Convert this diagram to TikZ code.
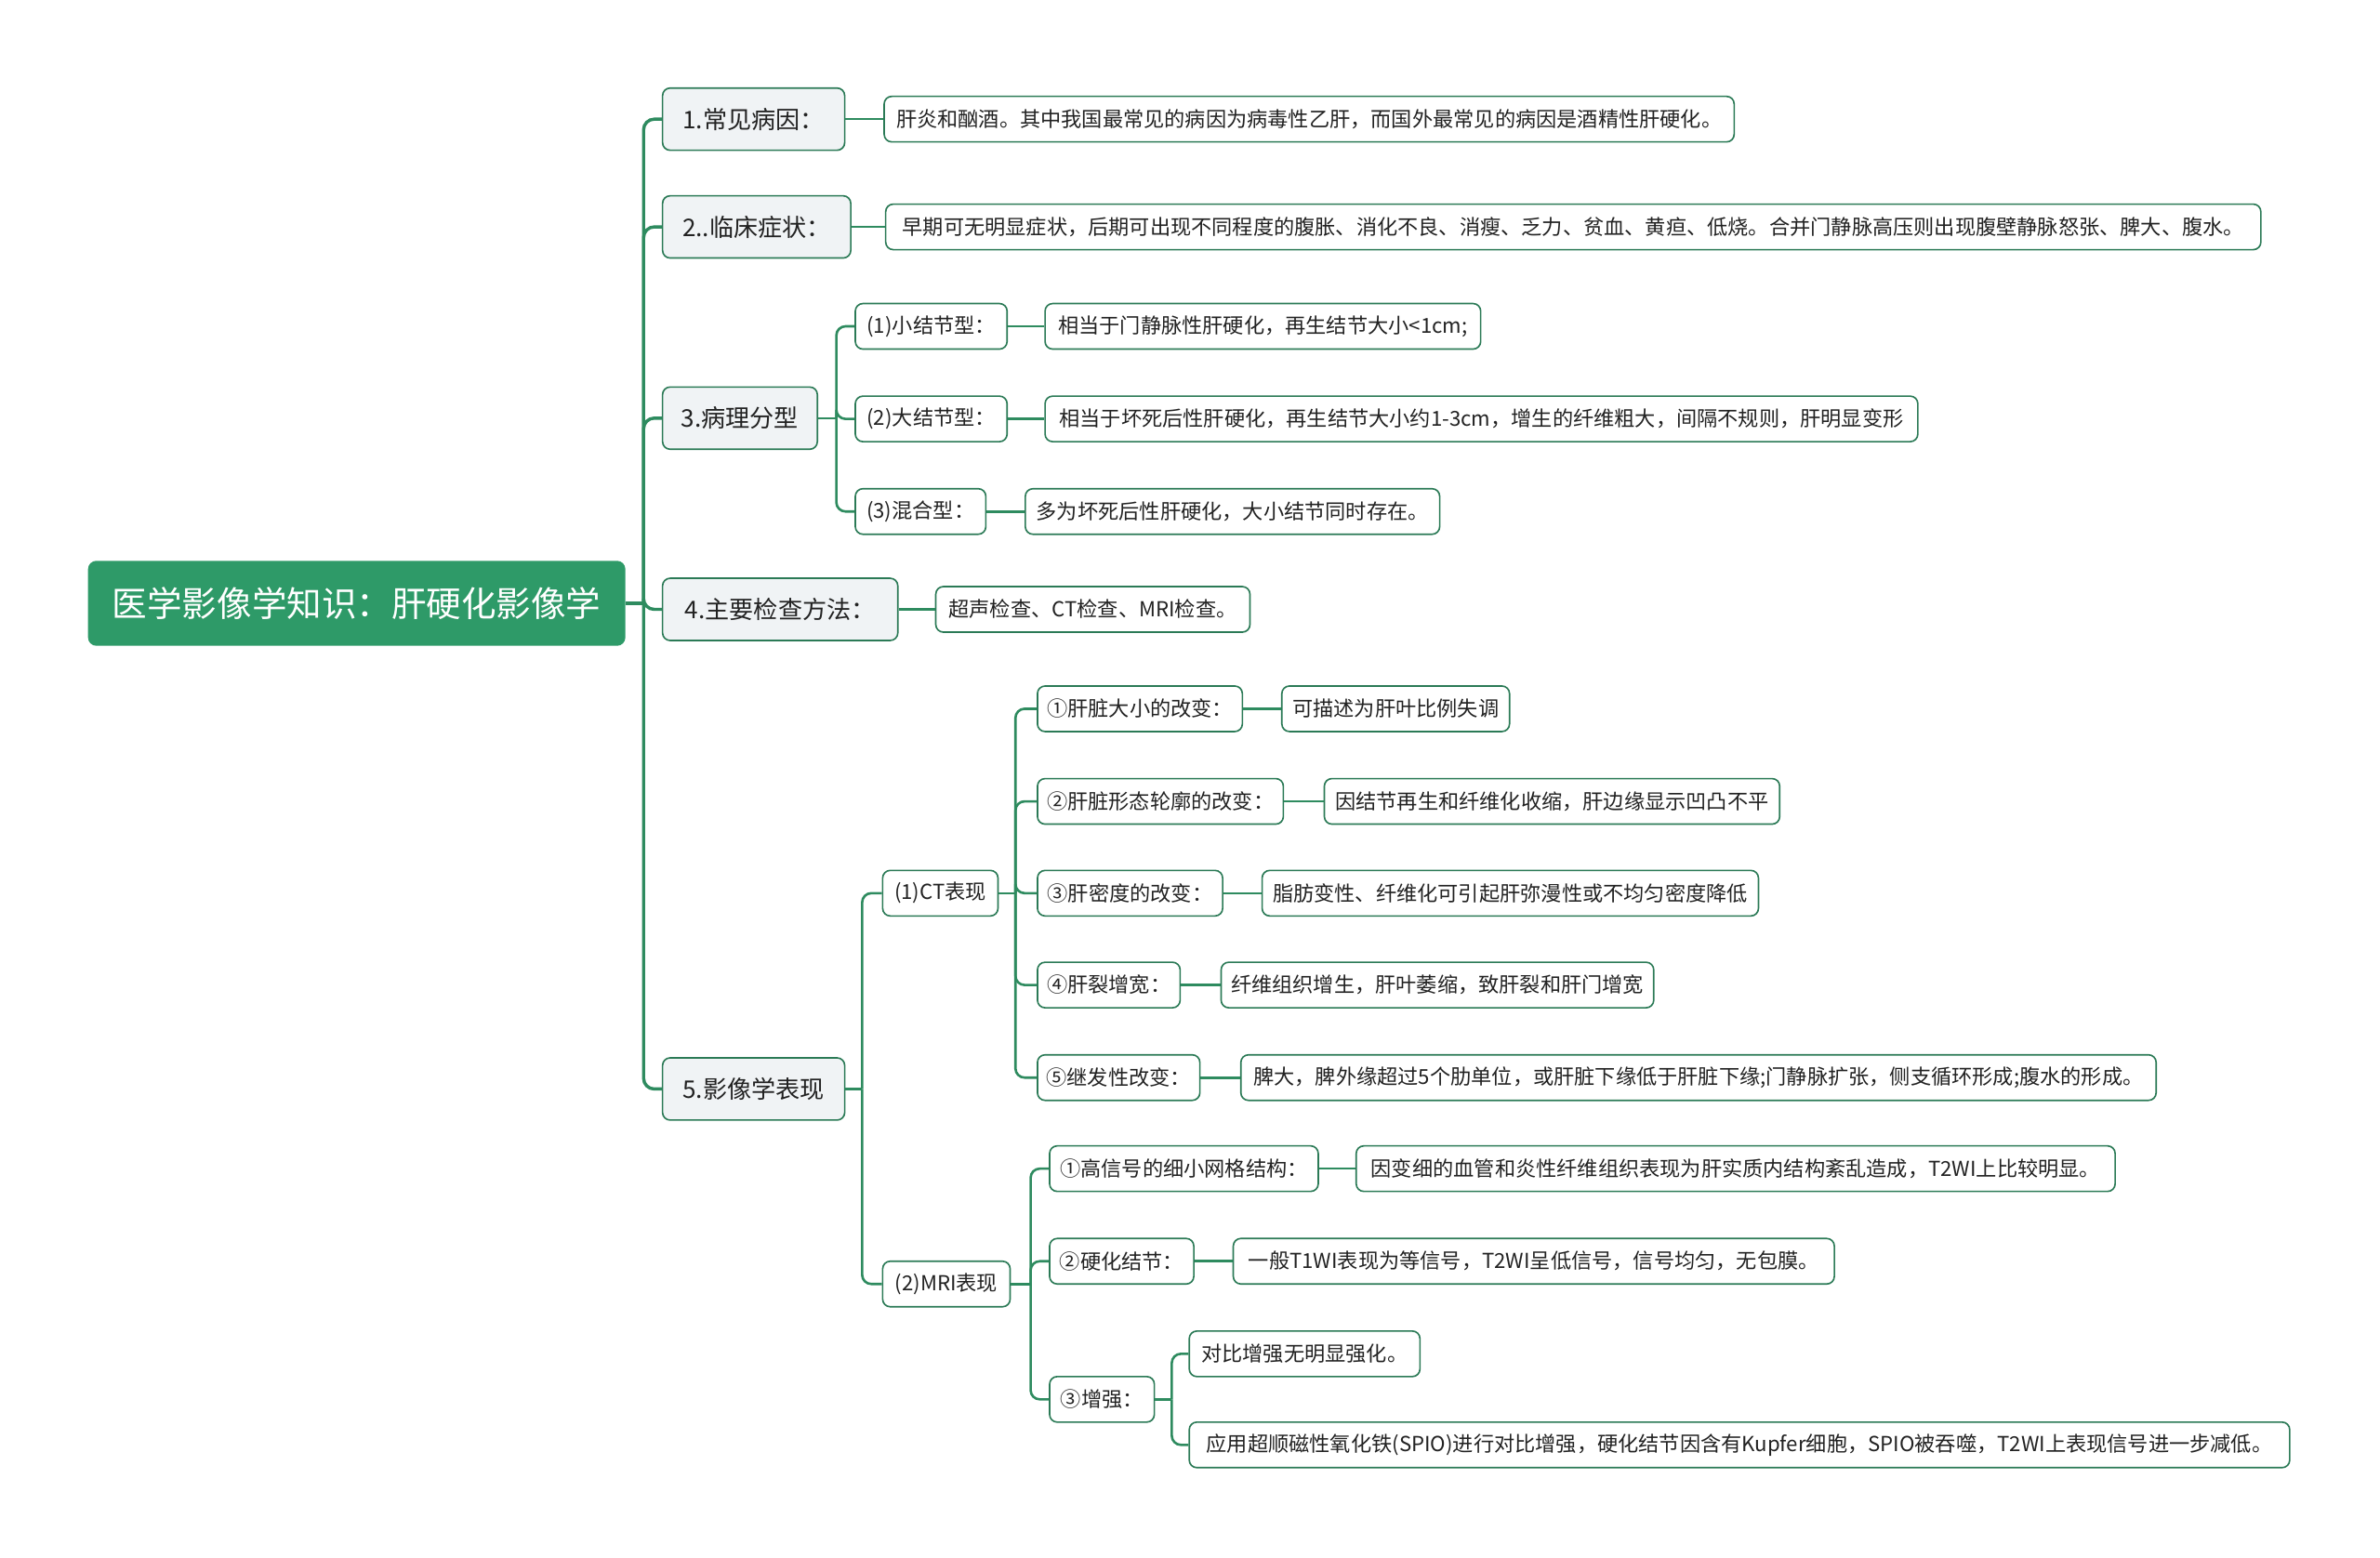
\documentclass[tikz,border=0pt]{standalone}
\usepackage{fontspec}
\setmainfont{Noto Sans CJK SC}
\usetikzlibrary{calc}
\definecolor{rootg}{HTML}{2E9A68}
\definecolor{lineg}{HTML}{2E8B5F}
\definecolor{boxg}{HTML}{2B7A56}
\definecolor{lfill}{HTML}{F0F3F5}
\definecolor{txt}{HTML}{222222}
\tikzset{
  base/.style={draw=boxg, line width=1pt, rounded corners=5pt, anchor=west, inner xsep=3pt, inner ysep=0pt, text=txt},
  rootbox/.style={base, fill=rootg, draw=rootg, text=white, font=\fontsize{23}{26}\selectfont, minimum height=55},
  lonebox/.style={base, fill=lfill, font=\fontsize{16}{19}\selectfont, minimum height=41},
  leaf/.style={base, fill=white, font=\fontsize{13.6}{16}\selectfont, minimum height=30},
  trunk/.style={draw=lineg, line width=2.1pt, rounded corners=7pt},
  conn/.style={draw=lineg, line width=1.6pt, rounded corners=6pt},
}
\begin{document}
\begin{tikzpicture}[x=1pt,y=-1pt]
\useasboundingbox (0,0) rectangle (1568,1026);
% root
\node[rootbox, minimum width=353] (root) at (58,397.5) {医学影像学知识：肝硬化影像学};
% level 1
\node[lonebox, minimum width=120] (n1) at (436,78.5) {1.常见病因：};
\node[lonebox, minimum width=124] (n2) at (436,149.5) {2..临床症状：};
\node[lonebox, minimum width=102] (n3) at (436,275.5) {3.病理分型};
\node[lonebox, minimum width=155] (n4) at (436,401.5) {4.主要检查方法：};
\node[lonebox, minimum width=120] (n5) at (436,717.5) {5.影像学表现};
% leaves of 1,2,4
\node[leaf, minimum width=560] (l1) at (582,78.5) {肝炎和酗酒。其中我国最常见的病因为病毒性乙肝，而国外最常见的病因是酒精性肝硬化。};
\node[leaf, minimum width=906] (l2) at (583,149.5) {早期可无明显症状，后期可出现不同程度的腹胀、消化不良、消瘦、乏力、贫血、黄疸、低烧。合并门静脉高压则出现腹壁静脉怒张、脾大、腹水。};
\node[leaf, minimum width=207] (l4) at (616,401.5) {超声检查、CT检查、MRI检查。};
% branch 3
\node[leaf, minimum width=100] (s31) at (563,215) {(1)小结节型：};
\node[leaf, minimum width=287] (t31) at (688,215) {相当于门静脉性肝硬化，再生结节大小<1cm;};
\node[leaf, minimum width=100] (s32) at (563,276) {(2)大结节型：};
\node[leaf, minimum width=575] (t32) at (688,276) {相当于坏死后性肝硬化，再生结节大小约1-3cm，增生的纤维粗大，间隔不规则，肝明显变形};
\node[leaf, minimum width=86] (s33) at (563,337) {(3)混合型：};
\node[leaf, minimum width=273] (t33) at (675,337) {多为坏死后性肝硬化，大小结节同时存在。};
% branch 5
\node[leaf, minimum width=76] (ct) at (581,588.5) {(1)CT表现};
\node[leaf, minimum width=135] (c1) at (683,467) {①肝脏大小的改变：};
\node[leaf, minimum width=150] (d1) at (844,467) {可描述为肝叶比例失调};
\node[leaf, minimum width=162] (c2) at (683,528) {②肝脏形态轮廓的改变：};
\node[leaf, minimum width=300] (d2) at (872,528) {因结节再生和纤维化收缩，肝边缘显示凹凸不平};
\node[leaf, minimum width=122] (c3) at (683,588.5) {③肝密度的改变：};
\node[leaf, minimum width=327] (d3) at (831,588.5) {脂肪变性、纤维化可引起肝弥漫性或不均匀密度降低};
\node[leaf, minimum width=94] (c4) at (683,649) {④肝裂增宽：};
\node[leaf, minimum width=285] (d4) at (804,649) {纤维组织增生，肝叶萎缩，致肝裂和肝门增宽};
\node[leaf, minimum width=107] (c5) at (683,710) {⑤继发性改变：};
\node[leaf, minimum width=603] (d5) at (817,710) {脾大，脾外缘超过5个肋单位，或肝脏下缘低于肝脏下缘;门静脉扩张，侧支循环形成;腹水的形成。};
\node[leaf, minimum width=84] (mri) at (581,846) {(2)MRI表现};
\node[leaf, minimum width=177] (m1) at (691,770) {①高信号的细小网格结构：};
\node[leaf, minimum width=500] (e1) at (893,770) {因变细的血管和炎性纤维组织表现为肝实质内结构紊乱造成，T2WI上比较明显。};
\node[leaf, minimum width=95] (m2) at (691,831) {②硬化结节：};
\node[leaf, minimum width=396] (e2) at (812,831) {一般T1WI表现为等信号，T2WI呈低信号，信号均匀，无包膜。};
\node[leaf, minimum width=69] (m3) at (691,922) {③增强：};
\node[leaf, minimum width=152] (f1) at (783,892) {对比增强无明显强化。};
\node[leaf, minimum width=725] (f2) at (783,952) {应用超顺磁性氧化铁(SPIO)进行对比增强，硬化结节因含有Kupfer细胞，SPIO被吞噬，T2WI上表现信号进一步减低。};
% trunk
\coordinate (tr) at (424,397.5);
\draw[trunk] (root.east) -- (tr);
\foreach \c in {n1,n2,n3,n4,n5} \draw[trunk] (tr) |- (\c.west);
% direct leaves
\draw[conn] (n1.east) -- (l1.west);
\draw[conn] (n2.east) -- (l2.west);
\draw[conn] (n4.east) -- (l4.west);
% branch 3
\coordinate (b3) at (551,275.5);
\draw[conn] (n3.east) -- (b3);
\foreach \c in {s31,s32,s33} \draw[conn] (b3) |- (\c.west);
\draw[conn] (s31.east) -- (t31.west);
\draw[conn] (s32.east) -- (t32.west);
\draw[conn] (s33.east) -- (t33.west);
% branch 5
\coordinate (b5) at (568,717.5);
\draw[conn] (n5.east) -- (b5);
\foreach \c in {ct,mri} \draw[conn] (b5) |- (\c.west);
\coordinate (bct) at (669,588.5);
\draw[conn] (ct.east) -- (bct);
\foreach \c in {c1,c2,c3,c4,c5} \draw[conn] (bct) |- (\c.west);
\draw[conn] (c1.east) -- (d1.west);
\draw[conn] (c2.east) -- (d2.west);
\draw[conn] (c3.east) -- (d3.west);
\draw[conn] (c4.east) -- (d4.west);
\draw[conn] (c5.east) -- (d5.west);
\coordinate (bmri) at (679,846);
\draw[conn] (mri.east) -- (bmri);
\foreach \c in {m1,m2,m3} \draw[conn] (bmri) |- (\c.west);
\draw[conn] (m1.east) -- (e1.west);
\draw[conn] (m2.east) -- (e2.west);
\coordinate (bm3) at (772,922);
\draw[conn] (m3.east) -- (bm3);
\foreach \c in {f1,f2} \draw[conn] (bm3) |- (\c.west);
\end{tikzpicture}
\end{document}
